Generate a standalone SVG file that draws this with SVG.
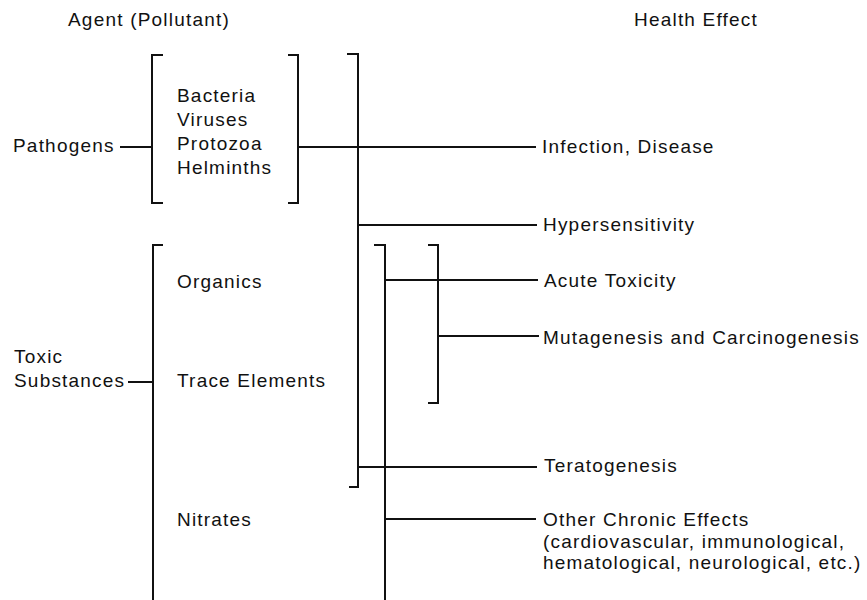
<svg xmlns="http://www.w3.org/2000/svg" width="867" height="600" viewBox="0 0 867 600">
<style>
text{font-family:"Liberation Sans",Arial,sans-serif;font-size:19px;letter-spacing:1.2px;fill:#111}
.ln{stroke:#111;stroke-width:2;fill:none}
</style>
<rect width="867" height="600" fill="#fff"/>
<g id="headers">
<text x="68" y="26">Agent (Pollutant)</text>
<text x="634" y="26">Health Effect</text>
</g>
<g id="pathogens">
<text x="13" y="152">Pathogens</text>
<path class="ln" d="M163,55 H152 V203 H163"/>
<text x="177" y="102">Bacteria</text>
<text x="177" y="126">Viruses</text>
<text x="177" y="150">Protozoa</text>
<text x="177" y="174">Helminths</text>
<path class="ln" d="M288,55 H298 V203 H288"/>
</g>
<g id="toxic">
<text x="14" y="363">Toxic</text>
<text x="14" y="387">Substances</text>
<path class="ln" d="M163,245 H153 V600"/>
<text x="177" y="288">Organics</text>
<text x="177" y="387">Trace Elements</text>
<text x="177" y="526">Nitrates</text>
</g>
<g id="effects">
<text x="542" y="153">Infection, Disease</text>
<text x="543" y="231">Hypersensitivity</text>
<text x="544" y="287">Acute Toxicity</text>
<text x="543" y="344">Mutagenesis and Carcinogenesis</text>
<text x="544" y="472">Teratogenesis</text>
<text x="543" y="526">Other Chronic Effects</text>
<text x="543" y="548">(cardiovascular, immunological,</text>
<text x="543" y="569">hematological, neurological, etc.)</text>
</g>
<g id="connectors">
<line class="ln" x1="120" y1="147" x2="152" y2="147"/>
<line class="ln" x1="128" y1="382" x2="153" y2="382"/>
<line class="ln" x1="298" y1="147" x2="536" y2="147"/>
<path class="ln" d="M347,54 H358 V487 H349"/>
<line class="ln" x1="358" y1="225" x2="537" y2="225"/>
<line class="ln" x1="358" y1="467" x2="537" y2="467"/>
<path class="ln" d="M374,245 H385 V600"/>
<line class="ln" x1="385" y1="280" x2="538" y2="280"/>
<line class="ln" x1="385" y1="519" x2="536" y2="519"/>
<path class="ln" d="M428,245 H438 V403 H428"/>
<line class="ln" x1="438" y1="336" x2="539" y2="336"/>
</g>
</svg>
